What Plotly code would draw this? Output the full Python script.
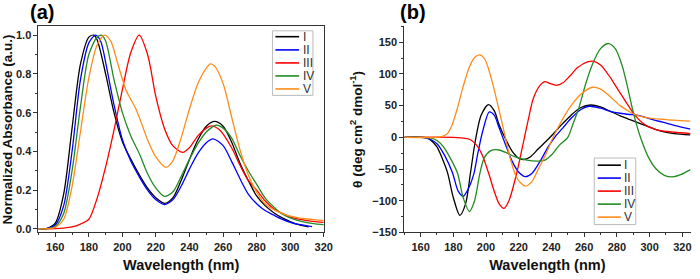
import plotly.graph_objects as go

names = ["I", "II", "III", "IV", "V"]
colors = ["#000000", "#0000FF", "#FF0000", "#228B22", "#FF8C1A"]

# ---- Panel (a): normalized absorbance ----
a_I_x = [150, 155, 160, 165, 170, 175, 180, 183, 185, 190, 195, 200, 205, 210, 215, 220, 225, 230, 235, 240, 245, 250, 255, 260, 265, 270, 275, 280, 285, 290, 295, 300, 305, 311]
a_I_y = [0, 0.003, 0.03, 0.18, 0.52, 0.85, 0.99, 1.0, 0.975, 0.8, 0.6, 0.45, 0.36, 0.28, 0.21, 0.16, 0.132, 0.16, 0.25, 0.36, 0.46, 0.53, 0.555, 0.53, 0.45, 0.34, 0.25, 0.17, 0.12, 0.085, 0.058, 0.038, 0.022, 0.011]

a_II_x = [150, 155, 160, 165, 170, 175, 180, 184, 187, 190, 195, 200, 205, 210, 215, 220, 225, 230, 235, 240, 245, 250, 254, 260, 265, 270, 275, 280, 285, 290, 295, 300, 305, 313]
a_II_y = [0, 0.002, 0.02, 0.12, 0.4, 0.77, 0.96, 1.0, 0.97, 0.86, 0.64, 0.46, 0.35, 0.27, 0.2, 0.15, 0.126, 0.15, 0.22, 0.31, 0.39, 0.445, 0.465, 0.43, 0.35, 0.26, 0.18, 0.13, 0.095, 0.072, 0.05, 0.034, 0.023, 0.012]

a_III_x = [150, 160, 165, 170, 175, 180, 185, 190, 195, 200, 205, 210, 215, 220, 225, 230, 236, 240, 245, 250, 253, 258, 265, 270, 275, 280, 285, 290, 295, 300, 305, 310, 315, 320]
a_III_y = [0, 0.001, 0.004, 0.01, 0.025, 0.05, 0.16, 0.32, 0.51, 0.72, 0.91, 1.0, 0.9, 0.68, 0.52, 0.43, 0.395, 0.42, 0.48, 0.52, 0.532, 0.51, 0.42, 0.33, 0.25, 0.2, 0.145, 0.105, 0.08, 0.062, 0.05, 0.043, 0.038, 0.034]

a_IV_x = [150, 155, 160, 165, 170, 175, 180, 185, 187.5, 190, 195, 200, 205, 210, 215, 220, 225, 230, 235, 240, 245, 250, 256, 260, 265, 270, 275, 280, 285, 290, 295, 300, 305, 310, 315, 320]
a_IV_y = [0, 0.001, 0.012, 0.08, 0.3, 0.63, 0.9, 0.99, 1.0, 0.97, 0.77, 0.6, 0.48, 0.39, 0.285, 0.21, 0.168, 0.19, 0.27, 0.36, 0.44, 0.5, 0.535, 0.52, 0.47, 0.38, 0.3, 0.23, 0.16, 0.115, 0.078, 0.057, 0.043, 0.032, 0.026, 0.022]

a_V_x = [150, 155, 160, 165, 170, 175, 180, 185, 189.5, 193, 197, 202, 208, 212, 215, 220, 226, 230, 235, 240, 245, 250, 252.5, 255, 260, 265, 270, 275, 280, 285, 290, 295, 300, 305, 310, 315, 320]
a_V_y = [0, 0.001, 0.008, 0.05, 0.22, 0.5, 0.78, 0.95, 1.0, 0.97, 0.86, 0.72, 0.62, 0.53, 0.46, 0.37, 0.318, 0.35, 0.47, 0.62, 0.75, 0.83, 0.852, 0.84, 0.75, 0.58, 0.41, 0.28, 0.19, 0.13, 0.1, 0.08, 0.066, 0.057, 0.051, 0.047, 0.044]

# ---- Panel (b): CD ellipticity ----
b_I_x = [150, 160, 163, 166, 170, 173.5, 176.5, 180, 184, 187.5, 190.5, 193.5, 197, 201.5, 205, 208, 212, 216, 220, 223, 227, 232, 238, 242, 247, 252, 258, 264, 270, 276, 282, 288, 292, 298, 303, 308, 315, 325]
b_I_y = [0, 0, -1, -4, -15, -35, -56, -95, -123, -105, -56, -5, 35, 51.7, 42, 20, -3, -22, -33, -35, -31, -18, -3, 8, 22, 35, 47, 51, 48, 41, 34, 28, 24, 18, 13, 9, 6, 4]

b_II_x = [150, 162, 165, 170, 175, 179.5, 183, 186, 189, 192.5, 195, 198, 202, 205, 208, 212, 216, 220, 224, 228, 233, 238, 242, 247, 252, 258, 263, 270, 276, 282, 288, 292, 298, 303, 308, 315, 325]
b_II_y = [0, 0, -2, -10, -30, -56, -85, -93, -82, -58, -25, 10, 40, 35, 15, -12, -38, -55, -62, -57, -38, -15, 0, 15, 30, 44, 49, 46, 41, 38, 36, 35, 31, 27, 24, 19, 13]

b_III_x = [150, 180, 185, 190, 195, 198, 201.5, 205, 208, 211, 214, 218.8, 223.5, 226, 229, 233, 236, 239, 243, 247, 251, 256, 262, 266, 270, 275, 280, 285, 291, 297, 303, 308, 315, 325]
b_III_y = [0, 0, -1, -3, -15, -30, -56, -85, -105, -112, -100, -56, 0, 30, 62, 82, 88, 85, 82, 86, 96, 110, 119, 120, 114, 98, 78, 58, 35, 20, 13, 10, 8, 6]

b_IV_x = [150, 162, 166, 170, 174, 178, 182.5, 186, 189.8, 193, 196.3, 199, 203, 208, 213, 218, 225, 232, 236, 240, 245, 250, 253, 256.7, 261, 265, 270, 275, 279, 283, 286, 289.4, 292, 294.4, 299, 304, 309, 314, 319, 325]
b_IV_y = [0, 0, -1, -5, -15, -32, -56, -95, -117, -100, -56, -32, -21, -20, -25, -31, -36, -37.5, -36, -28, -12, 0, 20, 46, 85, 115, 140, 148, 140, 115, 85, 46, 20, 0, -30, -50, -60, -62.5, -59, -51]

b_V_x = [150, 170, 172.5, 176, 179, 182.5, 186, 190, 193, 196.3, 199.5, 203, 207.7, 211.8, 215, 219, 224, 228, 232, 236, 241, 246, 252, 258, 265, 270, 276, 282, 288, 292, 298, 303, 308, 315, 325]
b_V_y = [0, 0, 1, 5, 18, 46, 80, 112, 126, 130, 122, 95, 46, 0, -35, -65, -77, -70, -50, -30, 0, 25, 50, 68, 79, 76, 64, 50, 40, 35, 31, 29.5, 28.5, 27, 25.5]

a_series = [(a_I_x, a_I_y), (a_II_x, a_II_y), (a_III_x, a_III_y), (a_IV_x, a_IV_y), (a_V_x, a_V_y)]
b_series = [(b_I_x, b_I_y), (b_II_x, b_II_y), (b_III_x, b_III_y), (b_IV_x, b_IV_y), (b_V_x, b_V_y)]

W, H = 700, 279
def px(x):
    return x / W
def py(y):
    return 1 - y / H

fig = go.Figure()
for i, (x, y) in enumerate(a_series):
    fig.add_trace(go.Scatter(x=x, y=y, mode="lines", name=names[i], showlegend=False,
                             line=dict(color=colors[i], width=1.3, shape="spline", smoothing=0.8),
                             xaxis="x", yaxis="y"))
for i, (x, y) in enumerate(b_series):
    fig.add_trace(go.Scatter(x=x, y=y, mode="lines", name=names[i], showlegend=False,
                             line=dict(color=colors[i], width=1.3, shape="spline", smoothing=0.8),
                             xaxis="x2", yaxis="y2"))

tickfont = dict(family="Arial", size=11, color="#222222", weight="bold")
xtitlefont = dict(family="Arial", size=14.5, color="#111111", weight="bold")
ytitlefont = dict(family="Arial", size=13.5, color="#111111", weight="bold")
common = dict(showline=True, linecolor="#333333", linewidth=1, ticks="outside", ticklen=4,
              tickcolor="#333333", tickfont=tickfont, showgrid=False, zeroline=False)

shapes = []
annotations = []

def add_legend(box, line_x0, line_x1, text_x, ys):
    l, t, r, b = box
    shapes.append(dict(type="rect", xref="paper", yref="paper",
                       x0=px(l), x1=px(r), y0=py(b), y1=py(t),
                       line=dict(color="#bbbbbb", width=1), fillcolor="white", layer="above"))
    for i, yy in enumerate(ys):
        shapes.append(dict(type="line", xref="paper", yref="paper",
                           x0=px(line_x0), x1=px(line_x1), y0=py(yy), y1=py(yy),
                           line=dict(color=colors[i], width=1.6), layer="above"))
        annotations.append(dict(text=names[i], x=px(text_x), y=py(yy), xref="paper", yref="paper",
                                showarrow=False, xanchor="left", yanchor="middle",
                                font=dict(family="Arial", size=12, color="#333333")))

add_legend((276, 31.5, 317, 97.5), 279, 303, 304.5, [37.5, 51.0, 64.3, 77.6, 90.9])
add_legend((602, 161.5, 644, 229.5), 605.5, 629, 630.5, [168.8, 182.0, 195.3, 208.6, 221.9])

annotations += [
    dict(text="(a)", x=px(43), y=py(12), xref="paper", yref="paper", showarrow=False,
         font=dict(family="Arial", size=20, color="black", weight="bold"), xanchor="center", yanchor="middle"),
    dict(text="(b)", x=px(418), y=py(12), xref="paper", yref="paper", showarrow=False,
         font=dict(family="Arial", size=20, color="black", weight="bold"), xanchor="center", yanchor="middle"),
]

fig.update_layout(
    width=W, height=H, margin=dict(l=0, r=0, t=0, b=0),
    paper_bgcolor="white", plot_bgcolor="white", showlegend=False,
    xaxis=dict(domain=[px(39), px(328)], range=[150, 320], dtick=20, tick0=160,
               minor=dict(dtick=10, ticks="outside", ticklen=2, tickcolor="#333333"),
               mirror=True, anchor="y",
               title=dict(text="Wavelength (nm)", font=xtitlefont, standoff=8), **common),
    yaxis=dict(domain=[41.5/H, 252/H], range=[-0.018, 1.045], dtick=0.2, tick0=0,
               tickformat=".1f",
               minor=dict(dtick=0.1, ticks="outside", ticklen=2, tickcolor="#333333"),
               mirror=True, anchor="x",
               title=dict(text="Normalized Absorbance (a.u.)", font=ytitlefont, standoff=6), **common),
    xaxis2=dict(domain=[px(409.5), px(699.5)], range=[150, 325], dtick=20, tick0=160,
                minor=dict(dtick=10, ticks="outside", ticklen=2, tickcolor="#333333"),
                anchor="y2",
                title=dict(text="Wavelength (nm)", font=xtitlefont, standoff=8), **common),
    yaxis2=dict(domain=[41.5/H, 252/H], range=[-150, 175], dtick=50, tick0=0,
                minor=dict(dtick=25, ticks="outside", ticklen=2, tickcolor="#333333"),
                anchor="x2",
                title=dict(text="θ (deg cm<sup>2</sup> dmol<sup>-1</sup>)", font=ytitlefont, standoff=6), **common),
    shapes=shapes,
    annotations=annotations,
)

fig.write_html("out.html")
